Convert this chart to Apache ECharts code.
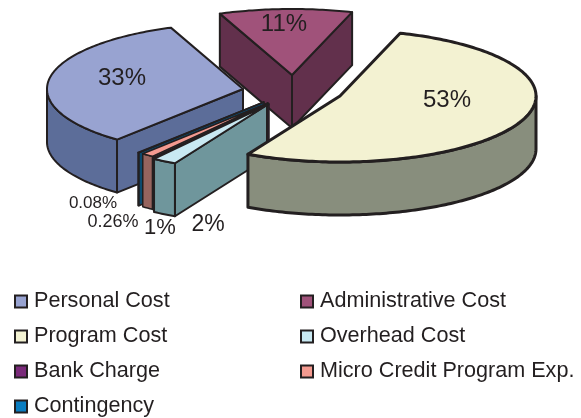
<!DOCTYPE html>
<html>
<head>
<meta charset="utf-8">
<style>
  html, body { margin: 0; padding: 0; background: #fff; }
  #chart { width: 581px; height: 418px; }
</style>
</head>
<body>
<div id="chart"></div>
<script src="https://cdn.jsdelivr.net/npm/echarts@6/dist/echarts.min.js"></script>
<script>
const categories = ['Personal Cost', 'Administrative Cost', 'Program Cost', 'Overhead Cost', 'Bank Charge', 'Micro Credit Program Exp.', 'Contingency']
const shares = [33, 11, 53, 2, 0.26, 1, 0.08]

// look of the tilted pie
const topColors = ['#98a3d1', '#a0527a', '#f3f2d2', '#c9e9f2', '#7a2a7a', '#f49a90', '#0a7dc0']
const sideColors = ['#5c6d99', '#62304c', '#888e7d', '#6f969c', '#3e1b40', '#96645e', '#0d4a6e']
const center = [270, 100]
const radiusX = 196
const radiusY = 66
const depth = 53
const startAngle = 130
const ink = '#231f20'
const strokeWidths = [2, 2, 3, 2, 1.5, 1.5, 1.5]
// each slice is pulled out of the pie by its own amount
const explode = [[-27, -11], [22, -25], [70, -4], [-3, 5], [-1, 4], [-2, 3], [-6, 2]]
// paint back to front
const paintOrder = [1, 0, 6, 5, 4, 3, 2]
const labelAnchors = [[122, 78], [284, 24], [447, 100], [208, 225], [113, 222], [160, 228], [93, 203]]
const labelSizes = [24, 24, 24, 23, 18, 22, 17]

const total = shares.reduce((a, b) => a + b, 0)
const ranges = []
let cursor = startAngle
shares.forEach(v => {
  const sweep = (v / total) * 360
  ranges.push([cursor, cursor + sweep])
  cursor += sweep
})

function rim(c, deg, drop) {
  const t = (deg * Math.PI) / 180
  return [c[0] + radiusX * Math.cos(t), c[1] + radiusY * Math.sin(t) + (drop || 0)]
}

function arcPoints(c, from, to, drop) {
  const pts = []
  const steps = Math.max(1, Math.ceil(to - from))
  for (let i = 0; i <= steps; i++) {
    pts.push(rim(c, from + ((to - from) * i) / steps, drop))
  }
  return pts
}

function makeRenderItem(idx) {
  return function (params, api) {
    const s = api.value(0)
    const e = api.value(1)
    const c = [center[0] + explode[idx][0], center[1] + explode[idx][1]]
    const lineStyle = { stroke: ink, lineWidth: strokeWidths[idx], lineJoin: 'round' }
    const side = Object.assign({ fill: sideColors[idx] }, lineStyle)
    const children = []

    // radial walls, only the ones turned towards the viewer
    const wall = deg => ({
      type: 'polygon',
      shape: { points: [c, rim(c, deg), rim(c, deg, depth), [c[0], c[1] + depth]] },
      style: side
    })
    if (Math.cos((s * Math.PI) / 180) < 0) children.push(wall(s))
    if (Math.cos((e * Math.PI) / 180) > 0) children.push(wall(e))

    // outer wall, front half of the ellipse only
    for (let k = 0; k < 2; k++) {
      const lo = Math.max(s, 360 * k)
      const hi = Math.min(e, 180 + 360 * k)
      if (hi > lo) {
        children.push({
          type: 'polygon',
          shape: { points: arcPoints(c, lo, hi).concat(arcPoints(c, lo, hi, depth).reverse()) },
          style: side
        })
      }
    }

    children.push({
      type: 'polygon',
      shape: { points: [c].concat(arcPoints(c, s, e)) },
      style: Object.assign({ fill: topColors[idx] }, lineStyle)
    })
    children.push({
      type: 'text',
      z2: 10,
      style: {
        text: shares[idx] + '%',
        x: labelAnchors[idx][0],
        y: labelAnchors[idx][1],
        align: 'center',
        verticalAlign: 'middle',
        fill: ink,
        font: labelSizes[idx] + 'px "Liberation Sans"'
      }
    })
    return { type: 'group', children }
  }
}

const legendBase = {
  orient: 'vertical',
  top: 290,
  padding: 0,
  icon: 'rect',
  itemWidth: 12,
  itemHeight: 12,
  itemGap: 12,
  selectedMode: false,
  itemStyle: { borderColor: ink, borderWidth: 2 },
  textStyle: { fontFamily: 'Liberation Sans', fontSize: 21.6, color: ink, padding: [0, 0, 0, 2], height: 23, lineHeight: 23 }
}

const myChart = echarts.init(document.getElementById('chart'), null, { renderer: 'canvas' })
myChart.setOption({
  animation: false,
  backgroundColor: '#fff',
  legend: [
    Object.assign({}, legendBase, { left: 14, data: [categories[0], categories[2], categories[4], categories[6]] }),
    Object.assign({}, legendBase, { left: 300, data: [categories[1], categories[3], categories[5]] })
  ],
  series: paintOrder.map(idx => ({
    type: 'custom',
    name: categories[idx],
    coordinateSystem: 'none',
    silent: true,
    itemStyle: { color: topColors[idx] },
    renderItem: makeRenderItem(idx),
    data: [ranges[idx]]
  }))
})
</script>
</body>
</html>
